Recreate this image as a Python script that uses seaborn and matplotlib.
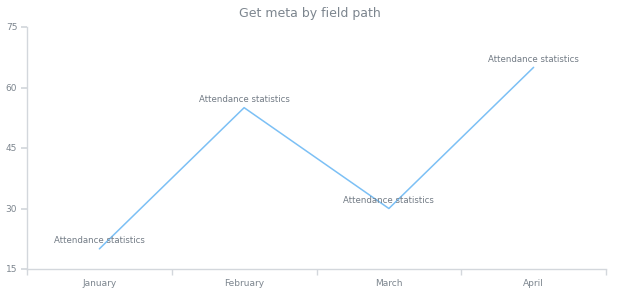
import matplotlib
matplotlib.use("Agg")
import matplotlib.pyplot as plt
import seaborn as sns
import pandas as pd
import numpy as np

categories = ["January", "February", "March", "April"]
values = [20, 55, 30, 65]
labels = ["Attendance statistics"] * 4
y_ticks = [15, 30, 45, 60, 75]
title = "Get meta by field path"

sns.set_theme(style="white")
plt.rcParams['font.family'] = ['DejaVu Sans']

df = pd.DataFrame({"month": categories, "value": values})

fig = plt.figure(figsize=(6.2, 3.0), dpi=100)
ax = fig.add_axes([27/620, 1-269/300, (606-27)/620, (269-27)/300])

sns.lineplot(data=df, x="month", y="value", ax=ax, color="#7cc0f5", linewidth=1.1, sort=False)

ax.set_xlim(-0.5, len(categories) - 0.5)
ax.set_ylim(15, 75)
ax.set_yticks(y_ticks)
ax.set_xticks(range(len(categories)))
ax.set_xticklabels(categories)
ax.set_xticks(np.arange(-0.5, len(categories), 1.0), minor=True)
ax.set_xlabel("")
ax.set_ylabel("")

for s in ["top", "right"]:
    ax.spines[s].set_visible(False)
for s in ["left", "bottom"]:
    ax.spines[s].set_color("#d3d7dc")
    ax.spines[s].set_linewidth(1)

ax.tick_params(axis="x", which="major", length=0, labelsize=6.5, labelcolor="#7c858e", pad=7)
ax.tick_params(axis="x", which="minor", length=4, color="#d3d7dc", bottom=True)
ax.tick_params(axis="y", length=4, color="#d3d7dc", labelsize=6.5, labelcolor="#7c858e", left=True, pad=3)

for i, (v, lab) in enumerate(zip(values, labels)):
    ax.annotate(lab, xy=(i, v), xytext=(0, 2.5), textcoords="offset points",
                ha="center", va="bottom", fontsize=6.2, color="#727b85")

fig.text(0.5, 1 - 14/300, title, ha="center", va="center", fontsize=9, color="#7c858e")

fig.savefig("out.png", dpi=100, facecolor="white")
